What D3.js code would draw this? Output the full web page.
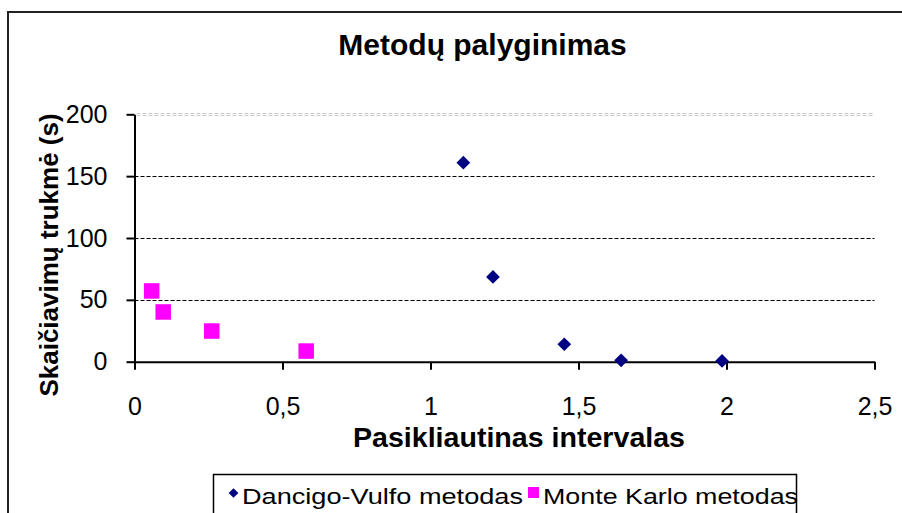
<!DOCTYPE html>
<html>
<head>
<meta charset="utf-8">
<script src="https://cdn.jsdelivr.net/npm/d3@7/dist/d3.min.js"></script>
<style>
  body { margin: 0; background: #fff; }
  svg text { font-family: "Liberation Sans", Arial, sans-serif; }
</style>
</head>
<body>
<div class="chart"></div>
<script>
// data
const seriesNames = ['Dancigo-Vulfo metodas', 'Monte Karlo metodas'];
const dancigoX = [1.111, 1.211, 1.452, 1.644, 1.985];
const dancigoY = [160.9, 68.5, 14.1, 1.1, 0.6];
const monteX = [0.058, 0.097, 0.261, 0.58];
const monteY = [57.2, 40.2, 24.8, 8.6];
const xTicks = [0, 0.5, 1, 1.5, 2, 2.5];
const yTicks = [0, 50, 100, 150, 200];

const chartWidth = 902;
const chartHeight = 513;

const plot = { left: 134.5, right: 874.5, top: 114.3, bottom: 361.7 };

const svg = d3.select('.chart')
  .append('svg')
  .attr('width', chartWidth)
  .attr('height', chartHeight);

// outer chart frame (runs off the right and bottom edge)
svg.append('rect')
  .attr('x', 8)
  .attr('y', 12)
  .attr('width', 960)
  .attr('height', 560)
  .attr('fill', 'none')
  .attr('stroke', '#222')
  .attr('stroke-width', 2);

const xScale = d3.scaleLinear()
  .domain([0, 2.5])
  .range([plot.left, plot.right]);

const yScale = d3.scaleLinear()
  .domain([0, 200])
  .range([plot.bottom, plot.top]);

const comma = d => String(d).replace('.', ',');

// gridlines
const grid = svg.append('g');
grid.selectAll('line.grid')
  .data(yTicks.filter(d => d > 0 && d < 200))
  .enter()
  .append('line')
  .attr('x1', plot.left)
  .attr('x2', plot.right)
  .attr('y1', d => Math.round(yScale(d)) + 0.5)
  .attr('y2', d => Math.round(yScale(d)) + 0.5)
  .attr('stroke', '#000')
  .attr('stroke-width', 1)
  .attr('stroke-dasharray', '4,2');

// top gridline is a pale double dashed line
[-1, 1].forEach(off => {
  grid.append('line')
    .attr('x1', plot.left + 2)
    .attr('x2', plot.right)
    .attr('y1', Math.round(yScale(200)) + off + 0.5)
    .attr('y2', Math.round(yScale(200)) + off + 0.5)
    .attr('stroke', '#c8c8c8')
    .attr('stroke-width', 1)
    .attr('stroke-dasharray', '4,2');
});

// axes
const xAxis = d3.axisBottom(xScale)
  .tickValues(xTicks)
  .tickFormat(comma)
  .tickSize(8)
  .tickSizeOuter(0);

const xAxisG = svg.append('g')
  .attr('transform', `translate(0, ${plot.bottom})`)
  .call(xAxis);
xAxisG.select('.domain').attr('stroke-width', 2);
xAxisG.selectAll('.tick line').attr('stroke-width', 2);
xAxisG.selectAll('.tick text')
  .attr('y', 53)
  .attr('dy', 0)
  .attr('font-size', 25)
  .attr('font-family', '"Liberation Sans", Arial, sans-serif')
  .attr('fill', '#000');

const yAxis = d3.axisLeft(yScale)
  .tickValues(yTicks)
  .tickSize(8)
  .tickPadding(19)
  .tickSizeOuter(0);

const yAxisG = svg.append('g')
  .attr('transform', `translate(${plot.left}, 0)`)
  .call(yAxis);
yAxisG.select('.domain').attr('stroke-width', 2);
yAxisG.selectAll('.tick line').attr('stroke-width', 2);
yAxisG.selectAll('.tick text')
  .attr('font-size', 25)
  .attr('font-family', '"Liberation Sans", Arial, sans-serif')
  .attr('fill', '#000');

// markers
const diamond = d3.symbol().type(d3.symbolDiamond2).size(120);

svg.append('g').selectAll('path')
  .data(dancigoX.map((x, i) => ({ x, y: dancigoY[i] })))
  .enter()
  .append('path')
  .attr('d', diamond)
  .attr('transform', d => `translate(${xScale(d.x)}, ${yScale(d.y)})`)
  .attr('fill', '#000080');

const sq = 15.5;
svg.append('g').selectAll('rect')
  .data(monteX.map((x, i) => ({ x, y: monteY[i] })))
  .enter()
  .append('rect')
  .attr('x', d => xScale(d.x) - sq / 2)
  .attr('y', d => yScale(d.y) - sq / 2)
  .attr('width', sq)
  .attr('height', sq)
  .attr('fill', '#ff00ff');

// titles
svg.append('text')
  .attr('x', 482.5)
  .attr('y', 55)
  .attr('text-anchor', 'middle')
  .attr('font-size', 30)
  .attr('font-weight', 'bold')
  .text('Metodų palyginimas');

svg.append('text')
  .attr('x', 519)
  .attr('y', 447)
  .attr('text-anchor', 'middle')
  .attr('font-size', 28)
  .attr('font-weight', 'bold')
  .attr('textLength', 332)
  .attr('lengthAdjust', 'spacingAndGlyphs')
  .text('Pasikliautinas intervalas');

svg.append('text')
  .attr('transform', 'translate(58, 255) rotate(-90)')
  .attr('text-anchor', 'middle')
  .attr('font-size', 26)
  .attr('font-weight', 'bold')
  .text('Skaičiavimų trukmė (s)');

// legend
const legend = svg.append('g');
legend.append('rect')
  .attr('x', 213.5)
  .attr('y', 474.5)
  .attr('width', 583)
  .attr('height', 80)
  .attr('fill', 'none')
  .attr('stroke', '#000')
  .attr('stroke-width', 1.5);

legend.append('path')
  .attr('d', d3.symbol().type(d3.symbolDiamond2).size(60))
  .attr('transform', 'translate(233.5, 493)')
  .attr('fill', '#000080');
legend.append('text')
  .attr('x', 242)
  .attr('y', 504)
  .attr('font-size', 22)
  .attr('textLength', 281)
  .attr('lengthAdjust', 'spacingAndGlyphs')
  .text(seriesNames[0]);

legend.append('rect')
  .attr('x', 528)
  .attr('y', 487)
  .attr('width', 11)
  .attr('height', 11)
  .attr('fill', '#ff00ff');
legend.append('text')
  .attr('x', 543)
  .attr('y', 504)
  .attr('font-size', 22)
  .attr('textLength', 255)
  .attr('lengthAdjust', 'spacingAndGlyphs')
  .text(seriesNames[1]);
</script>
</body>
</html>
